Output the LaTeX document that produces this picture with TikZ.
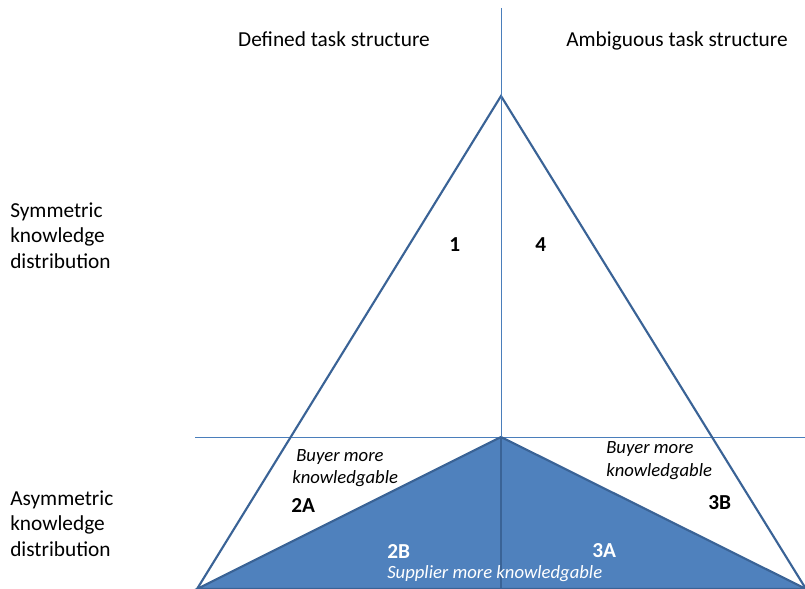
\documentclass[tikz,border=0pt]{standalone}
\usepackage{fontspec}
\setmainfont{Carlito}
\definecolor{fillblue}{HTML}{4F81BD}
\definecolor{edgeblue}{HTML}{3A6396}
\definecolor{thinblue}{HTML}{4A7EBB}
\tikzset{
  lbl/.style={font=\fontsize{16}{19}\selectfont, inner sep=0pt, anchor=base west, align=left},
  ttl/.style={font=\fontsize{16}{19}\selectfont, inner sep=0pt, anchor=base},
  num/.style={font=\fontsize{16}{19}\selectfont\bfseries, inner sep=0pt, anchor=base west},
  itl/.style={font=\fontsize{14}{17}\selectfont\itshape, inner sep=0pt, anchor=base west},
  thin/.style={draw=thinblue, line width=0.75pt},
  tri/.style={draw=edgeblue, line width=1.6pt, line join=miter},
}
\begin{document}
\begin{tikzpicture}[x=0.75pt,y=-0.75pt]
\useasboundingbox (0,0) rectangle (805,588);
% coordinates
\coordinate (apex) at (501,96);
\coordinate (bl) at (197,589);
\coordinate (br) at (806,589);
\coordinate (mid) at (501,437);
\coordinate (vtop) at (501,8);
\coordinate (vbot) at (501,588);
\coordinate (hl) at (195,437);
\coordinate (hr) at (805,437);
% horizontal line
\draw[thin] (hl) -- (hr);
% big triangle
\draw[tri] (bl) -- (apex) -- (br);
% filled triangle
\filldraw[fill=fillblue, draw=edgeblue, line width=1.6pt, line join=miter] (bl) -- (mid) -- (br) -- cycle;
% vertical line
\draw[thin] (vtop) -- (mid);
\draw[draw=edgeblue, line width=1.2pt] (mid) -- (vbot);
% titles
\node[ttl] (t1) at (334,47) {Defined task structure};
\node[ttl] (t2) at (677,47) {Ambiguous task structure};
% row labels
\node[lbl] (sym) at (10,268) {Symmetric\\knowledge\\distribution};
\node[lbl] (asym) at (10,556) {Asymmetric\\knowledge\\distribution};
% region numbers
\node[num] (n1) at (449,251) {1};
\node[num] (n4) at (535,251) {4};
\node[num] (n2a) at (291,512) {2A};
\node[num, text=white] (n2b) at (387,558) {2B};
\node[num] (n3b) at (708,509) {3B};
\node[num, text=white] (n3a) at (592,557) {3A};
% italic labels
\node[itl] (bl1) at (296,461) {Buyer more};
\node[itl] (bl2) at (292,483) {knowledgable};
\node[itl] (br1) at (606,453) {Buyer more};
\node[itl] (br2) at (606,476) {knowledgable};
\node[itl, text=white] (sup) at (387,578) {Supplier more knowledgable};
\end{tikzpicture}
\end{document}
